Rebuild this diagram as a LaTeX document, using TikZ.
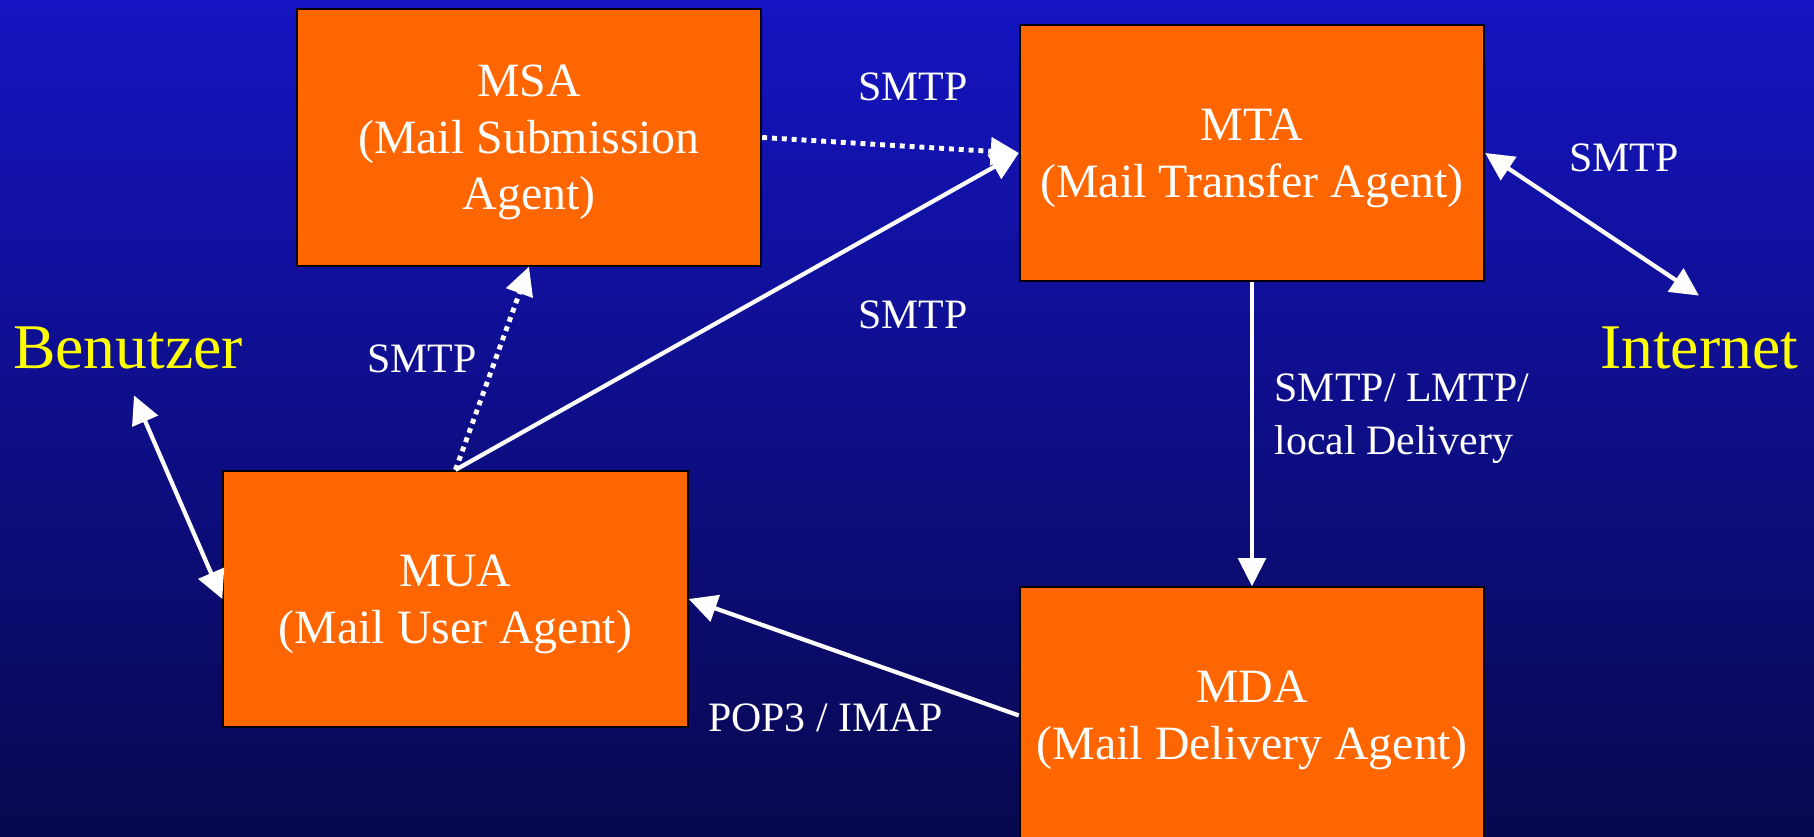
\documentclass[tikz,border=0pt]{standalone}
\usepackage{fontspec}
\setmainfont{Liberation Serif}
\usepackage{tikz}
\usetikzlibrary{arrows.meta,positioning}
\definecolor{corange}{rgb}{1, 0.4, 0}
\definecolor{cyellow}{rgb}{1, 1, 0}
\definecolor{cbluetop}{rgb}{0.08, 0.08, 0.76}
\definecolor{cbluebottom}{rgb}{0.03, 0.03, 0.31}

\begin{document}
\begin{tikzpicture}[x=0.01cm,y=-0.01cm,>={Triangle[length=8pt,width=7.8pt]},
  link/.style={draw=white,line width=1.2pt},
  dots/.style={draw=white,line width=1.4pt,dash pattern=on 1.4pt off 1.4pt},
  agent node/.style={rectangle,fill=corange,draw=black,line width=0.6pt,minimum width=4.64cm,
    minimum height=2.56cm,align=center,text=white,text depth=0pt,font=\fontsize{13.6}{16.1}\selectfont},
  proto node/.style={inner sep=0pt,text=white,align=left,font=\fontsize{11.9}{15}\selectfont},
  actor node/.style={inner sep=2pt,text=cyellow,font=\fontsize{18.1}{21}\selectfont}]
  \useasboundingbox (0,0) rectangle (1814,837);
  \fill[top color=cbluetop,bottom color=cbluebottom] (0,0) rectangle (1814,837);

  \node[agent node] (MSA) at (529,137.5) {MSA\\(Mail Submission\\Agent)};
  \node[agent node] (MTA) at (1252,153) {MTA\\(Mail Transfer Agent)};
  \node[agent node] (MUA) at (455.5,599) {MUA\\(Mail User Agent)};
  \node[agent node] (MDA) [below=3.04cm of MTA] {MDA\\(Mail Delivery Agent)};

  \node[actor node] (user) at (128,347.5) {Benutzer};
  \node[actor node] (net) at (1699,347.5) {Internet};

  \node[proto node] (smtp1) at (913,87) {SMTP};
  \node[proto node] (smtp2) at (913,315) {SMTP};
  \node[proto node] (smtp3) at (422,359) {SMTP};
  \node[proto node] (smtp4) at (1624,158) {SMTP};
  \node[proto node,anchor=north west] (lmtp) at (1274,373) {SMTP/ LMTP/\\local Delivery};
  \node[proto node] (pop) at (825.5,718) {POP3 / IMAP};

  \path
    (MSA.east) edge[dots,->] (MTA.west)
    (MUA.north) edge[dots,->] (MSA.south)
    (MUA.north) edge[link,->] (MTA.west)
    ([xshift=0.06cm,yshift=-0.19cm]user.south) edge[link,<->] (MUA.west)
    (MTA.east) edge[link,<->] ([yshift=0.23cm]net.north)
    (MTA.south) edge[link,->] (MDA.north)
    (MDA.west) edge[link,->] (MUA.east);
\end{tikzpicture}
\end{document}
